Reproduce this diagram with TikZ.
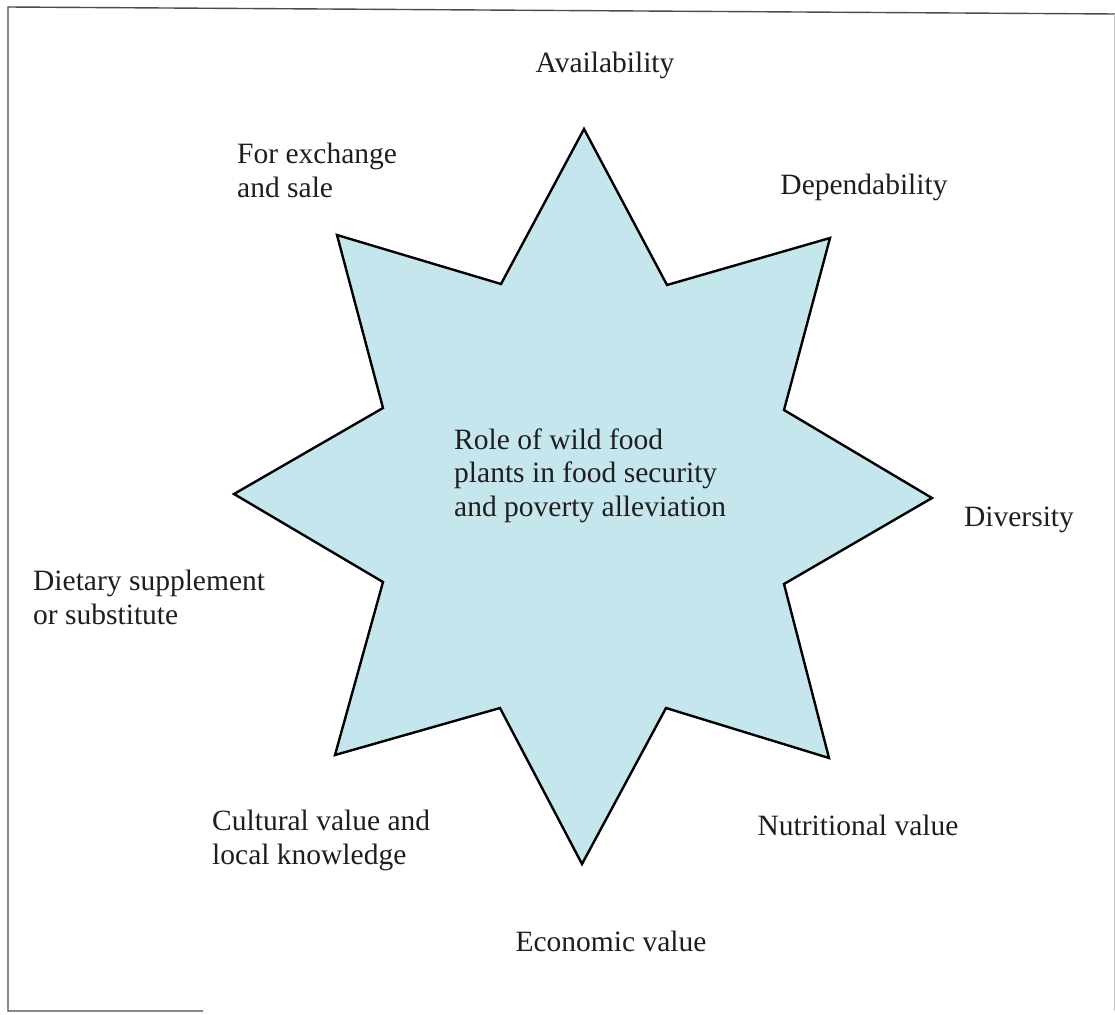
\documentclass[tikz,border=0pt]{standalone}
\usepackage{fontspec}
\setmainfont{Liberation Serif}
\definecolor{starfill}{RGB}{198,230,237}
\definecolor{inkcol}{RGB}{30,30,30}
\begin{document}
\begin{tikzpicture}[x=1pt,y=-1pt,
  lbl/.style={inner sep=0pt,text=inkcol,font=\fontsize{29.5}{33.5}\selectfont},
  lbll/.style={lbl,align=left,anchor=base west},
  lblc/.style={lbl,anchor=base},
  framestroke/.style={draw=black!70,line width=1.4pt},
  startline/.style={draw=black,line width=2.4pt,line join=miter,fill=starfill}]
\useasboundingbox (0,0) rectangle (1115,1014);
% frame around the figure
\coordinate (ftl) at (8,7);
\coordinate (ftr) at (1115,14);
\coordinate (fbl) at (8,1011);
\coordinate (fbr) at (203,1011);
\draw[framestroke] (ftr) -- (ftl) -- (fbl) -- (fbr);
\draw[draw=black!25,line width=1pt] (1114,14) -- (1114,1011);
% eight-pointed star
\draw[startline] (584,129) -- (667,285) -- (830,238) -- (784,410) -- (932,498)
  -- (784,584) -- (829,758) -- (666,708) -- (582,864) -- (500,708)
  -- (335,755) -- (383,582) -- (234,494) -- (383,408) -- (337,235)
  -- (501,284) -- cycle;
% centre text (anchored at the baseline of its last line)
\node[lbll] (centre) at (454,516) {Role of wild food\\plants in food security\\and poverty alleviation};
% surrounding labels
\node[lblc] (avail) at (605,73) {Availability};
\node[lbll] (exch) at (237,197) {For exchange\\and sale};
\node[lblc] (depend) at (864,194) {Dependability};
\node[lblc] (divers) at (1019,526) {Diversity};
\node[lbll] (diet) at (33,624) {Dietary supplement\\or substitute};
\node[lbll] (cult) at (212,864) {Cultural value and\\local knowledge};
\node[lblc] (nutri) at (858,835) {Nutritional value};
\node[lblc] (econ) at (611,951) {Economic value};
\end{tikzpicture}
\end{document}
